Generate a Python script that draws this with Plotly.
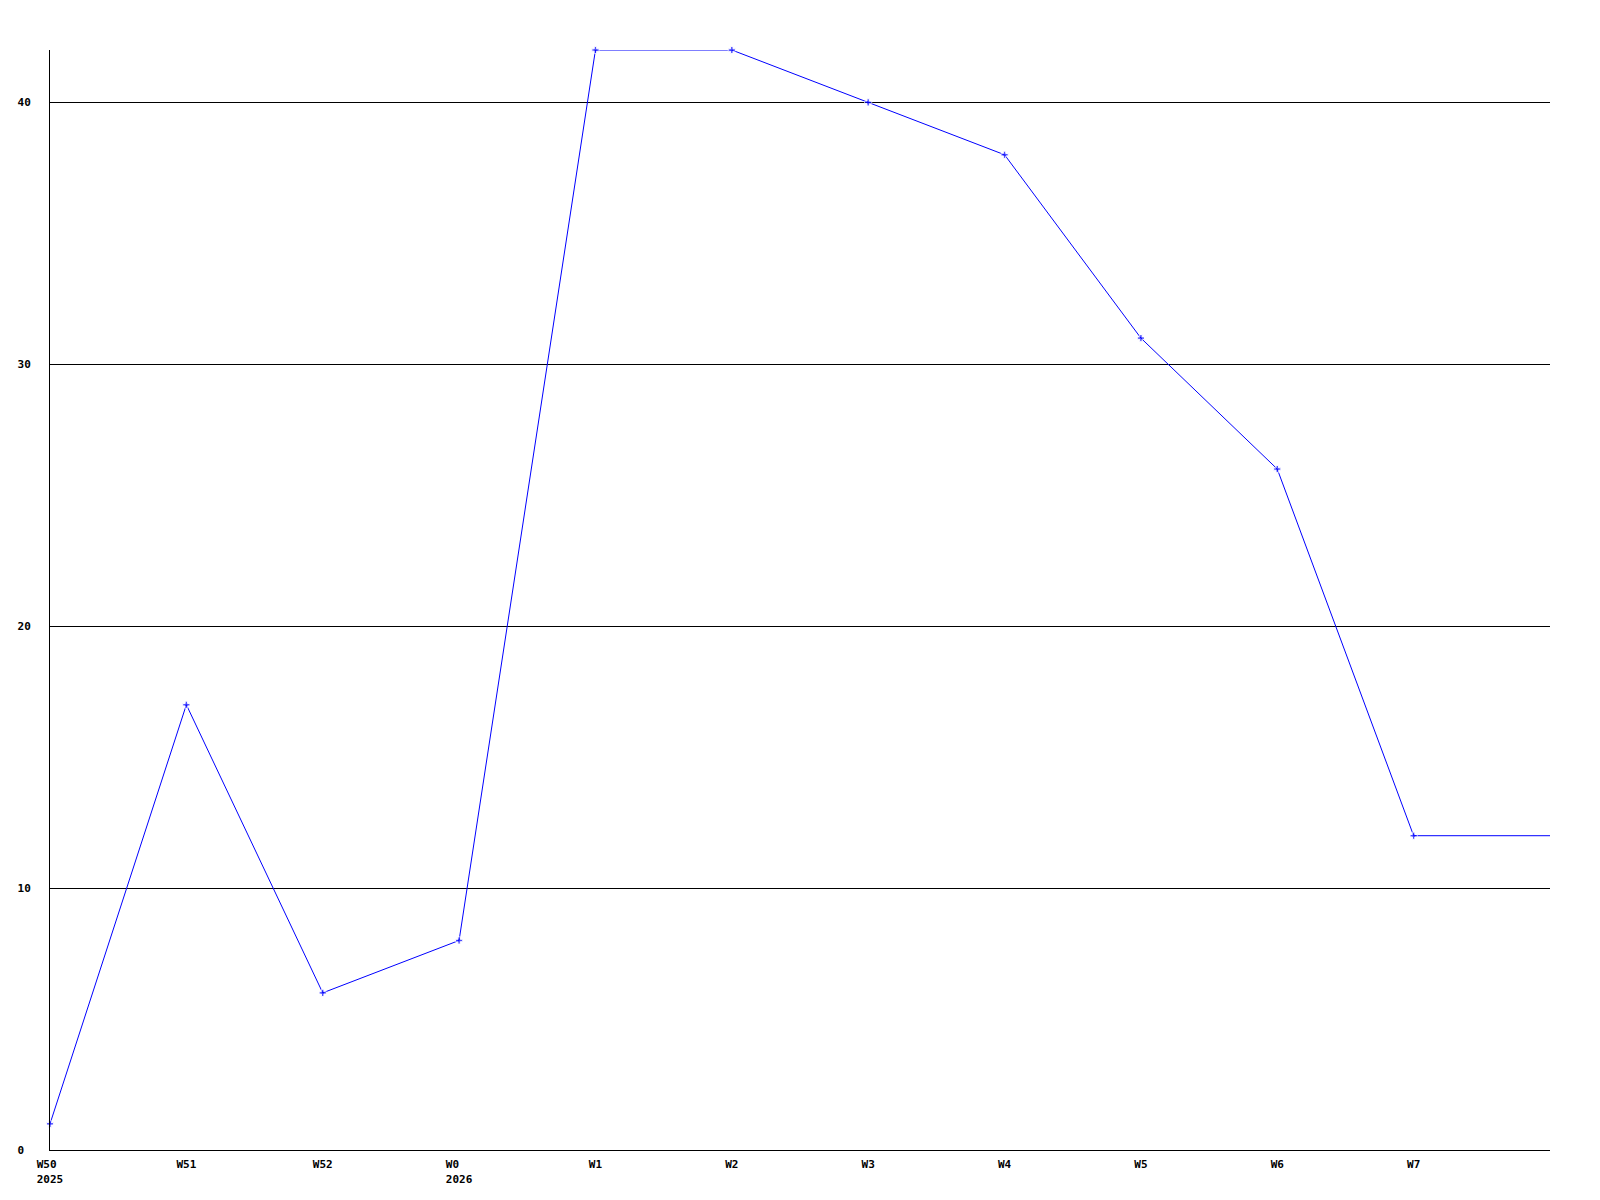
import plotly.graph_objects as go

# weekly values, W50 2025 .. W8 2026
weeks = ["W50", "W51", "W52", "W0", "W1", "W2", "W3", "W4", "W5", "W6", "W7", "W8"]
values = [1, 17, 6, 8, 42, 42, 40, 38, 31, 26, 12, 12]
x_pos = list(range(len(weeks)))

x_tick_labels = ["W50\u00a0<br>2025", "W51", "W52", "W0\u00a0\u00a0<br>2026",
                 "W1", "W2", "W3", "W4", "W5", "W6", "W7"]
y_ticks = [0, 10, 20, 30, 40]
y_tick_labels = ["0\u00a0", "10", "20", "30", "40"]

# last point sits on the right edge without a marker
marker_sizes = [6] * (len(values) - 1) + [0]

fig = go.Figure()
fig.add_trace(go.Scatter(
    x=x_pos, y=values, mode="lines+markers",
    line=dict(color="#0000ff", width=1),
    marker=dict(color="#0000ff", size=marker_sizes, symbol="cross"),
    cliponaxis=False,
))

font = dict(family="DejaVu Sans Mono", size=11, color="black", weight="bold")

# page body has an 8px margin, so offset the plot margins for it
fig.update_layout(
    width=1600, height=1200,
    margin=dict(l=42, r=58, t=42, b=58),
    paper_bgcolor="white", plot_bgcolor="white",
    showlegend=False,
    font=font,
)
fig.update_xaxes(
    range=[0, 11], tickvals=x_pos[:11], ticktext=x_tick_labels,
    showgrid=False, zeroline=False, showline=True, linecolor="black", linewidth=1,
    ticks="", ticklabelstandoff=4, tickfont=font, automargin=False,
)
fig.update_yaxes(
    range=[0, 42], tickvals=y_ticks, ticktext=y_tick_labels,
    showgrid=True, gridcolor="black", gridwidth=1, zeroline=False,
    showline=True, linecolor="black", linewidth=1,
    ticks="", ticklabelstandoff=16, tickfont=font, automargin=False,
)

fig.write_html("out.html")
